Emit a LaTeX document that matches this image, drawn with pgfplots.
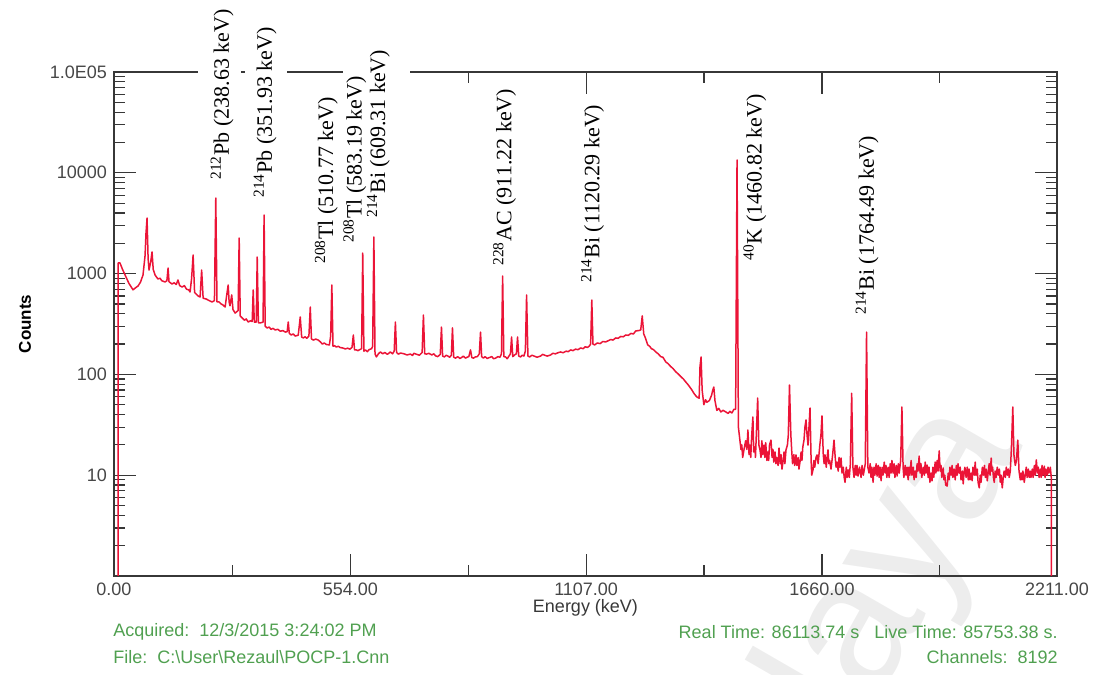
\documentclass[border=0pt]{standalone}
\usepackage{pgfplots}
\pgfplotsset{compat=1.18}
\usepackage{pgfplotstable}
\usepackage{fontspec}
\setmainfont{Liberation Sans}
\newfontfamily\labelfont{Liberation Serif}
\definecolor{specred}{RGB}{235,20,55}
\definecolor{infogreen}{RGB}{80,160,80}
\definecolor{axisgray}{RGB}{55,55,55}
\tikzset{lbl/.style={rotate=90, anchor=west, inner xsep=1pt, inner ysep=1pt,
    font=\labelfont\fontsize{11}{12}\selectfont}}

% gamma spectrum: energy (keV), counts per channel
\pgfplotstableread{
E C
9.4 0.5
9.5 1275
14 1275
20 1100
26 968
35 800
44.6 690
50 720
56.4 754
62 820
68 968
72.8 1500
75 2500
77.5 3560
80 1400
82.2 1085
86 1300
89.2 1640
92 1100
96.3 968
103 884
108 900
112 850
119.7 826
124 850
126.8 1135
129 830
136 789
141 810
146 780
150 864
154 760
159.7 736
165 760
170 700
175 690
178.4 657
182 900
185.5 1530
189 650
192.5 628
197 600
201.9 586
205.5 1085
209 570
216 560
223 540
230 523
235.5 540
238.63 5620
241.5 525
246.5 523
251 500
255 490
260.6 466
264 600
267.7 771
270 520
272 480
276 614
279 440
284.1 406
291 430
293.5 2255
296 380
300.5 363
306 345
310 355
314.6 331
320 340
324 335
326.4 688
329 330
333.5 330
335.8 1460
338.5 325
342.8 324
349.5 330
351.93 3810
354.5 300
359.2 289
364 295
368 280
373 286
378 276
384 280
390 268
396 272
401.5 263
406 265
408.6 331
411 255
415.6 246
420 252
425 240
432 245
436.7 371
440 235
443.8 230
448 236
452 228
457 240
460.2 466
463 225
467.3 219
473 224
479 219
484 210
488.4 200
493 205
498 198
505 196
508 240
510.77 771
513.5 190
517 193
521 187
526 190
530 185
536 183
542.4 179
548 182
553 178
558 185
561.2 246
564 175
568.2 175
572 172
575 175
580.5 180
583.19 1600
586 170
589.3 175
594 168
598 176
604 180
606.5 190
609.31 2310
612 160
615.2 149
620 160
624.6 167
630 160
635 165
641 158
648 167
653 160
657 170
659.8 331
662.5 165
666.8 159
672 163
680 160
687 156
695 159
700 154
703 162
710 158
716 155
722.5 165
725.5 388
728.5 160
732.6 159
738 162
745 156
750 160
753.7 153
759 150
765 158
767.8 295
770.5 152
774.8 149
779 155
783 152
787 148
791 155
793.6 289
796.5 148
800.7 145
806 150
811 144
815 147
819 152
824.1 145
828 148
832 150
835.9 175
839 147
842.9 145
847 149
852 150
856.5 160
859.4 263
862 150
866.4 145
870 150
875 144
880 147
886 150
890 143
894.6 145
900 150
905 148
908.5 160
911.22 946
914 150
918.1 149
922 143
926 152
929.5 160
932.2 235
935 150
939.2 156
943.5 160
946.2 235
949 152
953.3 149
957 155
961 152
964.5 170
967.4 614
970.5 152
974.4 149
980 155
985 152
992 148
1000.2 152
1005 158
1010 155
1016 152
1023.7 156
1029 162
1035 160
1041 164
1047.2 167
1053 164
1060 170
1065 168
1070.7 175
1076 172
1082 178
1088 176
1094.2 183
1100 180
1105 188
1110 185
1115 192
1117.5 200
1120.29 547
1123 200
1127 196
1133 205
1140 202
1146 212
1152.9 210
1159 216
1165 222
1170 219
1176.3 230
1182 228
1188 238
1194 236
1199.8 246
1206 244
1212 255
1218 252
1223.3 270
1230 272
1235 276
1238.5 380
1242.1 252
1246 230
1251.5 196
1256 190
1260 180
1265 176
1270.3 167
1276 160
1282 150
1287 148
1293.7 133
1299 128
1305 120
1311 114
1317.2 106
1323 101
1329 95
1335 90
1340.7 84
1345 80
1350 75
1355 70
1359.5 65
1366 60
1372 58
1374 120
1376.5 149
1379 70
1383 50
1387 56
1390 53
1396 55
1401 62
1404 70
1406.4 75
1409 55
1413.5 44
1418 46
1422.9 42.4
1428 44
1434.6 42.4
1440 41
1444 43
1448.7 41.4
1453.4 45
1457.5 45
1460.82 13400
1464 30
1467.5 22.3
1470 18
1472 20
1474 15
1477 17.8
1481 22
1484 18
1486.3 28.1
1489 16
1491 19.9
1493 15
1495 24
1498 37.8
1500 17
1502.7 19.1
1504 15
1506 25
1509.2 58.3
1512 20
1514.6 17.8
1517 15
1519 22
1521 16
1524 19.9
1526 15
1528 21
1531 14
1533.3 17.0
1535 14
1537 20
1540.4 22.3
1543 15
1545 18
1547 13.5
1549.8 17.0
1552 13
1554 15
1557 12.5
1559.2 18.6
1562 13
1564 16
1566.2 11.5
1569 14
1571 17
1573 13
1575.6 17.8
1579 20
1581 25
1583.8 78.5
1587 25
1589.2 17.0
1591 13
1594 16
1596 12.5
1599 15.9
1601 12.5
1604 15
1606 11.5
1608.4 13.5
1611 17
1613 14
1615 19
1617.8 22.3
1620 30
1622.5 35.3
1625 25
1627.2 19.9
1629.5 30
1631.9 46.4
1634.5 14
1636 10
1638.9 11.3
1641 14
1643 12
1646 15
1648.3 15.9
1651 13
1655 20
1657.5 25
1660 38.7
1663 16
1665 13
1667.1 15.9
1670 12
1672 15
1674.1 17.8
1676 13
1678 14
1681.2 11.5
1685 16
1688.2 22.3
1691 15
1693 12
1695.3 13.5
1698 11
1700 15
1702 12
1704.7 14.8
1707 10.5
1710 12
1712 9.5
1714.1 8.5
1717 12
1719 9.5
1721.1 11.3
1724 9.5
1726.5 13
1729.6 65
1732.5 12
1735.1 9.5
1738 12.5
1740 10
1742 12.5
1744.5 9.8
1748 12
1751.6 9.5
1754 12.5
1757 10
1761.5 13
1764.49 263
1767.5 12
1770.4 10.5
1773 13
1775 9.5
1777 12
1779.8 8.5
1782 12
1784 10
1787 13
1789.2 9.8
1792 12.5
1794 9.5
1796 12
1798.6 8.8
1801 12
1803 10
1806 13.5
1808 10.5
1810 12.5
1812 9.5
1815 12
1817.4 9.5
1820 13
1822 10.5
1824 14
1826.7 10.5
1829 13
1831 9.5
1834 12.5
1836.1 9.8
1839 13
1841 10.5
1844.5 14
1847.4 47.5
1850.2 11.8
1852 9.5
1855 12.5
1857 10
1859.6 12
1862 9
1864 12
1866 10
1869 14
1871 10
1874 12
1876 9
1878.4 11
1881 9.5
1883 13
1885 11
1887.8 15.5
1890 10.5
1892 13
1894 9.5
1897.2 12
1900 10
1902 13.5
1904 10.5
1906.6 12.6
1909 9.5
1911 12
1913 8.5
1916 10.5
1918 8.8
1920 12
1922 9.5
1925.4 13.5
1927 10.5
1930 14
1932 11
1934.8 17.4
1937 11
1939 12.5
1941 9.5
1944.1 11.8
1946 9
1948 10
1950 8
1953.5 7.8
1956 10.5
1958 9
1960 12
1962.9 10
1965 12.5
1967 9.5
1970 11.5
1972.3 9
1975 12.5
1977 10
1979 13
1981.7 10.5
1984 12
1986 9
1989 11
1991.1 8.2
1993 10.5
1995 12
1998 9.5
2000.5 12
2003 9
2005 11.5
2007 9
2009.9 10.5
2012 8.8
2014 12
2017 10
2019.3 13.5
2021 10
2024 11.5
2026 8.5
2028.7 7.5
2031 10
2033 8.5
2036 12
2038.1 10
2041 12.5
2043 9.5
2045 11.5
2047.5 8.8
2050 11
2052 13
2054 10
2056.8 14.8
2058 11
2060 12
2062 9.5
2063.9 8.5
2066 11
2068 9.5
2071 12
2073.3 10
2076 11.5
2078 8.5
2080 10
2082.7 7.5
2085 9.5
2087 11
2090 9.5
2092.1 12
2095 10
2097 11.5
2099 9.5
2101.5 11
2104 18
2107.4 47.5
2110 16
2113.2 12.5
2116 14
2119.1 22.3
2122 11
2124.9 9
2127 10.5
2129 9
2131 11
2134.3 8.5
2137 10.5
2139 12
2141 9.5
2143.7 11.5
2146 9.5
2148 11
2150 9.5
2153.1 11.5
2155 9.5
2158 12.5
2160 10
2162.5 14.2
2165 10.5
2167 12
2169 9.5
2171.9 11.5
2174 9.5
2176 12.5
2178 10
2181.3 12.3
2183 9.5
2185 11.5
2188.3 10
2190 12
2192 10.5
2195.4 12
2197.7 9.4
2198 0.5
}\spectrum

\begin{document}
\begin{tikzpicture}
\path[use as bounding box] (-57pt,-49.5pt) rectangle (492.5pt,288pt);
% faint page watermark behind everything
\node[text=black!7, rotate=60, font=\fontsize{92}{92}\selectfont] at (392pt,4pt) {laya};
\begin{axis}[
  at={(0pt,0pt)}, anchor=south west,
  scale only axis, width=471.5pt, height=252pt,
  clip mode=individual,
  xmin=0, xmax=2211, ymode=log, ymin=1, ymax=1e5,
  xtick={0,554,1107,1660,2211},
  xticklabels={0.00,554.00,1107.00,1660.00,2211.00},
  minor xtick={277,830.5,1383.5,1935.5},
  ytick={10,100,1000,10000,100000},
  yticklabels={10,100,1000,10000,1.0E05},
  minor ytick={2,3,4,5,6,7,8,9,20,30,40,50,60,70,80,90,200,300,400,500,600,700,800,900,2000,3000,4000,5000,6000,7000,8000,9000,20000,30000,40000,50000,60000,70000,80000,90000},
  tick align=inside, xtick pos=both, ytick pos=both,
  major tick length=11pt, minor tick length=5.5pt,
  axis line style={axisgray, line width=0.6pt},
  every tick/.style={axisgray, line width=0.6pt},
  tick label style={font=\fontsize{9}{10}\selectfont, text=black!72},
  xlabel={Energy (keV)},
  xlabel style={at={(axis description cs:0.5,0)}, anchor=center, yshift=-16pt,
    font=\fontsize{9}{10}\selectfont, text=black!78},
  ylabel={\textbf{Counts}},
  ylabel style={at={(axis description cs:-0.0944,0.5)}, anchor=center,
    rotate=0, font=\fontsize{8.5}{10}\selectfont},
]
% breaks in the top frame behind the tallest labels
\fill[white] (axis cs:197,6e4) rectangle (axis cs:298,1.6e5);
\fill[white] (axis cs:307.6,6e4) rectangle (axis cs:406,1.6e5);
\fill[white] (axis cs:537.7,6e4) rectangle (axis cs:695,1.6e5);
% peak identifications
\node[lbl] at (axis cs:253.6,8110) {\textsuperscript{212}Pb (238.63 keV)};
\node[lbl] at (axis cs:354.5,5370) {\textsuperscript{214}Pb (351.93 keV)};
\node[lbl] at (axis cs:497.8,1190) {\textsuperscript{208}Tl (510.77 keV)};
\node[lbl] at (axis cs:564.5,1922) {\textsuperscript{208}Tl (583.19 keV)};
\node[lbl] at (axis cs:620,3400) {\textsuperscript{214}Bi (609.31 keV)};
\node[lbl] at (axis cs:915.7,1137) {\textsuperscript{228}AC (911.22 keV)};
\node[lbl] at (axis cs:1122,771) {\textsuperscript{214}Bi (1120.29 keV)};
\node[lbl] at (axis cs:1502.7,1275) {\textsuperscript{40}K (1460.82 keV)};
\node[lbl] at (axis cs:1765.7,371) {\textsuperscript{214}Bi (1764.49 keV)};
\addplot[specred, line width=0.75pt, line join=round, no marks] table[x=E, y=C] {\spectrum};
\end{axis}
% acquisition details
\begin{scope}[every node/.style={text=infogreen, font=\fontsize{9}{10}\selectfont, inner sep=0pt}]
\node[anchor=west] at (-0.5pt,-28pt) {Acquired:\ \ 12/3/2015 3:24:02 PM};
\node[anchor=west] at (-0.5pt,-40.5pt) {File:\ \ C:\textbackslash User\textbackslash Rezaul\textbackslash POCP-1.Cnn};
\node[anchor=east] at (472pt,-28pt) {Real Time: 86113.74 s\ \ \ Live Time: 85753.38 s.};
\node[anchor=east] at (472pt,-40.5pt) {Channels:\ \ 8192};
\end{scope}
\end{tikzpicture}
\end{document}
